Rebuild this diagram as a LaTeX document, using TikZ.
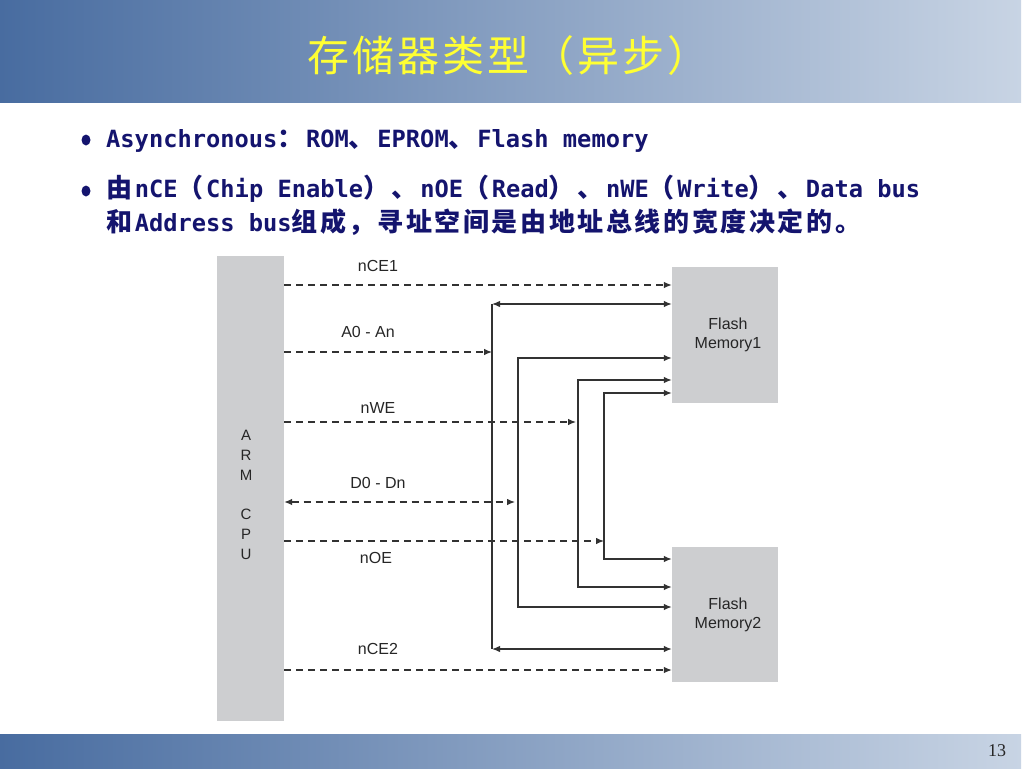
\documentclass[tikz,border=0pt]{standalone}
\usepackage{fontspec}
\setmainfont{Liberation Sans}
\newfontfamily\cjkfont{Noto Sans CJK SC}
\newfontfamily\monofont{DejaVu Sans Mono}
\newfontfamily\numfont{Liberation Serif}
\usetikzlibrary{arrows.meta}
\definecolor{hdrL}{RGB}{72,108,160}
\definecolor{hdrR}{RGB}{200,212,228}
\definecolor{navy}{RGB}{20,20,110}
\definecolor{boxgray}{RGB}{205,206,208}
\definecolor{wire}{RGB}{50,50,50}
\definecolor{ttl}{RGB}{255,255,51}
\newdimen\cjkgap
\def\cjkloop#1{\ifx#1\relax\else#1\kern\cjkgap\expandafter\cjkloop\fi}
\newcommand\mLat[1]{{\monofont\bfseries\fontsize{23.7}{28}\selectfont #1}}
\newcommand\mCJK[1]{{\cjkfont\bfseries\fontsize{26}{30}\selectfont\cjkgap=2.6pt\relax\cjkloop#1\relax}}
\tikzset{
  block/.style={fill=boxgray, draw=none, inner sep=0},
  sig/.style={draw=wire, line width=1.1pt, dash pattern=on 7pt off 5pt, ->},
  bus/.style={draw=wire, line width=1.3pt},
  lbl/.style={font=\fontsize{16}{19}\selectfont, text=black!85, inner sep=0},
  txt/.style={anchor=base west, inner sep=0, text=navy},
  >={Latex[length=8pt,width=6.5pt]}
}
\begin{document}
\begin{tikzpicture}[x=1pt,y=-1pt]
\useasboundingbox (0,0) rectangle (1024,768);
\fill[white] (0,0) rectangle (1024,768);
% header and footer bars
\shade[left color=hdrL, right color=hdrR] (0,0) rectangle (1021,102);
\shade[left color=hdrL, right color=hdrR] (0,734) rectangle (1021,768);
\node[text=ttl, font=\cjkfont\fontsize{42}{46}\selectfont, inner sep=0, anchor=west] (title) at (307,56) {\cjkgap=3pt\relax\cjkloop 存储器类型（异步）\relax};
\node[font=\numfont\fontsize{18}{20}\selectfont, text=black!85, inner sep=0] (pg) at (997,751) {13};
% bullets
\fill[navy] (86,140) ellipse [x radius=4.5pt, y radius=5.5pt];
\fill[navy] (86,191) ellipse [x radius=4.5pt, y radius=5.5pt];
\node[txt] (b1) at (106,147) {\mLat{Asynchronous}\mCJK{：}\mLat{ROM}\mCJK{、}\mLat{EPROM}\mCJK{、}\mLat{Flash memory}};
\node[txt] (b2) at (106,197) {\mCJK{由}\mLat{nCE}\mCJK{（}\mLat{Chip Enable}\mCJK{）、}\mLat{nOE}\mCJK{（}\mLat{Read}\mCJK{）、}\mLat{nWE}\mCJK{（}\mLat{Write}\mCJK{）、}\mLat{Data bus}};
\node[txt] (b3) at (106,231) {\mCJK{和}\mLat{Address bus}\mCJK{组成，寻址空间是由地址总线的宽度决定的。}};
% blocks
\node[block, minimum width=67pt, minimum height=465pt] (cpu) at (250.5,488.5) {};
\node[inner sep=0, font=\fontsize{15}{19.7}\selectfont, align=center, text=black!85] (cpulbl) at (246,495) {A\\R\\M\\\mbox{}\\C\\P\\U};
\node[block, minimum width=106pt, minimum height=136pt] (fm1) at (725,335) {};
\node[block, minimum width=106pt, minimum height=135pt] (fm2) at (725,614.5) {};
\node[lbl, align=center, font=\fontsize{16}{19.5}\selectfont] (fm1t) at (728,335) {Flash\\Memory1};
\node[lbl, align=center, font=\fontsize{16}{19.5}\selectfont] (fm2t) at (728,615) {Flash\\Memory2};
% levels
\coordinate (yCE1) at (0,285);
\coordinate (yA) at (0,352);
\coordinate (yWE) at (0,422);
\coordinate (yD) at (0,502);
\coordinate (yOE) at (0,541);
\coordinate (yCE2) at (0,670);
\coordinate (busA1) at (492,304);
\coordinate (busA2) at (492,649);
\coordinate (dB1) at (518,358);
\coordinate (dB2) at (518,607);
\coordinate (wB1) at (578,380);
\coordinate (wB2) at (578,587);
\coordinate (oB1) at (604,393);
\coordinate (oB2) at (604,559);
% solid buses
\draw[bus] (busA1) -- (busA2);
\draw[bus, <->] (busA1) -- (fm1.west |- busA1);
\draw[bus, <->] (busA2) -- (fm2.west |- busA2);
\draw[bus, <->] (fm1.west |- dB1) -- (dB1) -- (dB2) -- (fm2.west |- dB2);
\draw[bus, <->] (fm1.west |- wB1) -- (wB1) -- (wB2) -- (fm2.west |- wB2);
\draw[bus, <->] (fm1.west |- oB1) -- (oB1) -- (oB2) -- (fm2.west |- oB2);
% dashed signals
\draw[sig] (cpu.east |- yCE1) -- (fm1.west |- yCE1);
\draw[sig] (cpu.east |- yA) -- (busA1 |- yA);
\draw[sig] (cpu.east |- yWE) -- ([xshift=-2pt]wB1 |- yWE);
\draw[sig, <->] (cpu.east |- yD) -- ([xshift=-3pt]dB1 |- yD);
\draw[sig] (cpu.east |- yOE) -- (oB1 |- yOE);
\draw[sig] (cpu.east |- yCE2) -- (fm2.west |- yCE2);
% labels
\node[lbl] (lCE1) at (378,266) {nCE1};
\node[lbl] (lA) at (368,332) {A0 - An};
\node[lbl] (lWE) at (378,408) {nWE};
\node[lbl] (lD) at (378,483) {D0 - Dn};
\node[lbl] (lOE) at (376,558) {nOE};
\node[lbl] (lCE2) at (378,649) {nCE2};
\end{tikzpicture}
\end{document}
